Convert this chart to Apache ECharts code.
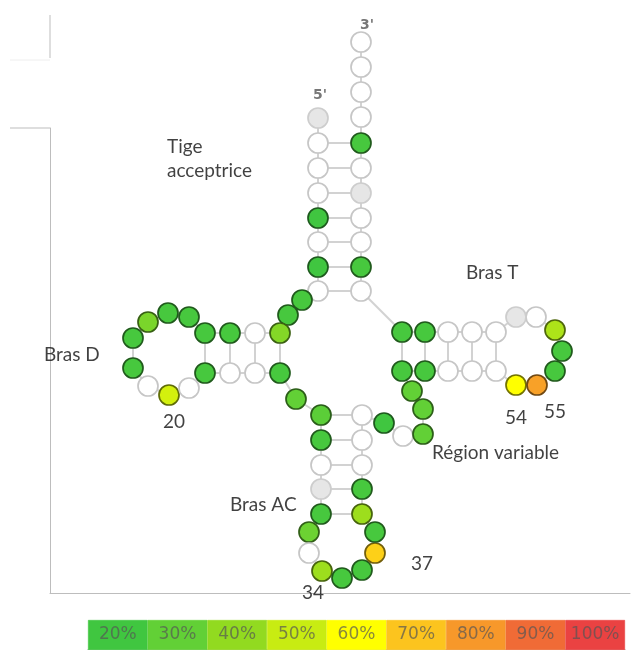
<!DOCTYPE html>
<html><head><meta charset="utf-8">
<script src="https://cdn.jsdelivr.net/npm/echarts@6/dist/echarts.min.js"></script>
<style>html,body{margin:0;padding:0;background:#fff}#c{width:631px;height:650px}</style>
</head><body><div id="c"></div>
<script>
// Nucleotide layout (data units of the diagram), index 0 = 5' end
const nodeX = [268,268,268,268,268,268,268,268,252,238,
  230,205,180,155,139,118,98,83,83,98,
  119,139,155,180,205,230,246,271,271,271,
  271,271,259,259,272,292,312,325,325,312,
  312,312,312,312,334,353,373,373,362,352,
  375,398,422,446,466,487,505,512,505,486,
  466,446,422,398,375,352,311,311,311,311,
  311,311,311,311,311,311,311];
const nodeY = [475,450,425,400,375,351,326,302,293,278,
  260,260,260,260,276,280,271,255,225,207,
  198,205,220,220,220,220,194,178,153,128,
  104,79,61,40,22,15,23,40,61,79,
  104,128,153,178,170,157,159,184,202,222,
  222,222,222,222,208,208,222,242,263,276,
  276,261,261,261,261,261,302,326,351,375,
  400,425,450,476,501,526,551];
// percentage per nucleotide (null = no value)
const nodeVal = [null,null,null,null,20,null,20,null,22,22,
  37,null,22,22,22,22,35,22,22,null,
  52,null,22,null,null,22,30,28,22,null,
  null,22,32,null,42,22,22,68,22,42,
  22,null,null,null,20,null,30,30,30,22,
  22,null,null,null,60,78,22,22,45,null,
  null,null,null,null,22,22,null,22,null,null,
  null,null,22,null,null,null,null];
const grayNodes = [0,30,60,70];
// base pairs
const pairA = [1,2,3,4,5,6,7,10,11,12,13,27,28,29,30,31,49,50,51,52,53];
const pairB = [72,71,70,69,68,67,66,25,24,23,22,43,42,41,40,39,65,64,63,62,61];
// colour scale
const scaleLabels = ['20%','30%','40%','50%','60%','70%','80%','90%','100%'];
const scaleValues = [20,30,40,50,60,70,80,90,100];
const scaleColors = ['#40c640','#62d036','#92da20','#c8ec12','#ffff00','#fcc41e','#f7982a','#f06b36','#ea4242'];
// annotations
const annotText = ["3'","5'","Tige\nacceptrice","Bras T","Bras D","20","54","55","Région variable","Bras AC","37","34"];
const annotX = [317,270,117,416,-6,124,466,505,382,180,372,263];
const annotY = [568,498,434,320,238,171,175,181,140,88,29,0];
const annotAlign = ['center','center','left','left','left','center','center','center','left','left','center','center'];

function hex2rgb(h){return [parseInt(h.slice(1,3),16),parseInt(h.slice(3,5),16),parseInt(h.slice(5,7),16)];}
function rgb2hex(c){return '#'+c.map(v=>Math.max(0,Math.min(255,Math.round(v))).toString(16).padStart(2,'0')).join('');}
function colorFor(v){
  if(v<=scaleValues[0]) return scaleColors[0];
  for(let i=0;i<scaleValues.length-1;i++){
    if(v<=scaleValues[i+1]){
      const t=(v-scaleValues[i])/(scaleValues[i+1]-scaleValues[i]);
      const a=hex2rgb(scaleColors[i]),b=hex2rgb(scaleColors[i+1]);
      return rgb2hex(a.map((x,k)=>x+(b[k]-x)*t));
    }
  }
  return scaleColors[scaleColors.length-1];
}
function darken(h,f){return rgb2hex(hex2rgb(h).map(x=>x*f));}

const nodes = nodeX.map((x,i)=>{
  const v=nodeVal[i];
  let style;
  if(grayNodes.indexOf(i)>=0) style={color:'#e6e6e6',borderColor:'#cdcdcd',borderWidth:1.7};
  else if(v==null) style={color:'#ffffff',borderColor:'#c6c6c6',borderWidth:1.7};
  else { const c=colorFor(v); style={color:c,borderColor:darken(c,0.45),borderWidth:1.7}; }
  return {name:String(i), value:[x,nodeY[i]], itemStyle:style};
});
const links=[];
for(let i=0;i<nodeX.length-1;i++) links.push({source:i,target:i+1});
for(let k=0;k<pairA.length;k++) links.push({source:pairA[k],target:pairB[k]});

const annots = annotText.map((t,i)=>{
  const prime = t.indexOf("'")>=0;
  return {
    value:[annotX[i],annotY[i]],
    label:{show:true,formatter:t,align:annotAlign[i],verticalAlign:'middle',
      fontFamily:prime?'DejaVu Sans':'Lato',
      fontSize:prime?14:19,
      fontWeight:prime?'bold':'normal',
      color:prime?'#555':'#111', lineHeight:24, position:'inside'}
  };
});

const chart = echarts.init(document.getElementById('c'));
chart.setOption({
  animation:false,
  backgroundColor:'#fff',
  grid:[
    {left:50,top:128,right:1,bottom:57,containLabel:false},
    {left:88,top:620,width:537,height:30}
  ],
  xAxis:[
    {gridIndex:0,type:'value',min:0,max:580,axisLine:{show:true,lineStyle:{color:'#bdbdbd',width:1}},axisTick:{show:false},axisLabel:{show:false},splitLine:{show:false}},
    {gridIndex:1,type:'category',position:'top',data:scaleLabels,axisLine:{show:true,lineStyle:{color:'#cccccc',width:2}},axisTick:{show:false},axisLabel:{show:false}}
  ],
  yAxis:[
    {gridIndex:0,type:'value',min:0,max:465,axisLine:{show:true,lineStyle:{color:'#bdbdbd',width:1}},axisTick:{show:false},axisLabel:{show:false},splitLine:{show:false}},
    {gridIndex:1,type:'value',min:0,max:1,show:false}
  ],
  graphic:[
    {type:'line',shape:{x1:50,y1:15,x2:50,y2:58},style:{stroke:'#bdbdbd',lineWidth:1}},
    {type:'line',shape:{x1:10,y1:60,x2:50,y2:60},style:{stroke:'#eeeeee',lineWidth:1}},
    {type:'line',shape:{x1:10,y1:128,x2:50,y2:128},style:{stroke:'#bdbdbd',lineWidth:1}}
  ],
  series:[
    {type:'graph',coordinateSystem:'cartesian2d',xAxisIndex:0,yAxisIndex:0,layout:'none',
     symbol:'circle',symbolSize:20,data:nodes,links:links,
     lineStyle:{color:'#d2d2d2',width:2,opacity:1},label:{show:false},emphasis:{disabled:true},z:3},
    {type:'scatter',xAxisIndex:0,yAxisIndex:0,symbolSize:0,data:annots,clip:false,silent:true,z:5},
    {type:'bar',xAxisIndex:1,yAxisIndex:1,barCategoryGap:'0%',
     data:scaleValues.map((v,i)=>({value:1,itemStyle:{color:scaleColors[i],borderColor:scaleColors[i],borderWidth:0.6}})),
     label:{show:true,position:'inside',formatter:(p)=>scaleLabels[p.dataIndex],
       fontFamily:'DejaVu Sans',fontSize:17,color:'rgba(85,85,85,0.7)'},
     silent:true,z:2}
  ]
});
</script></body></html>
